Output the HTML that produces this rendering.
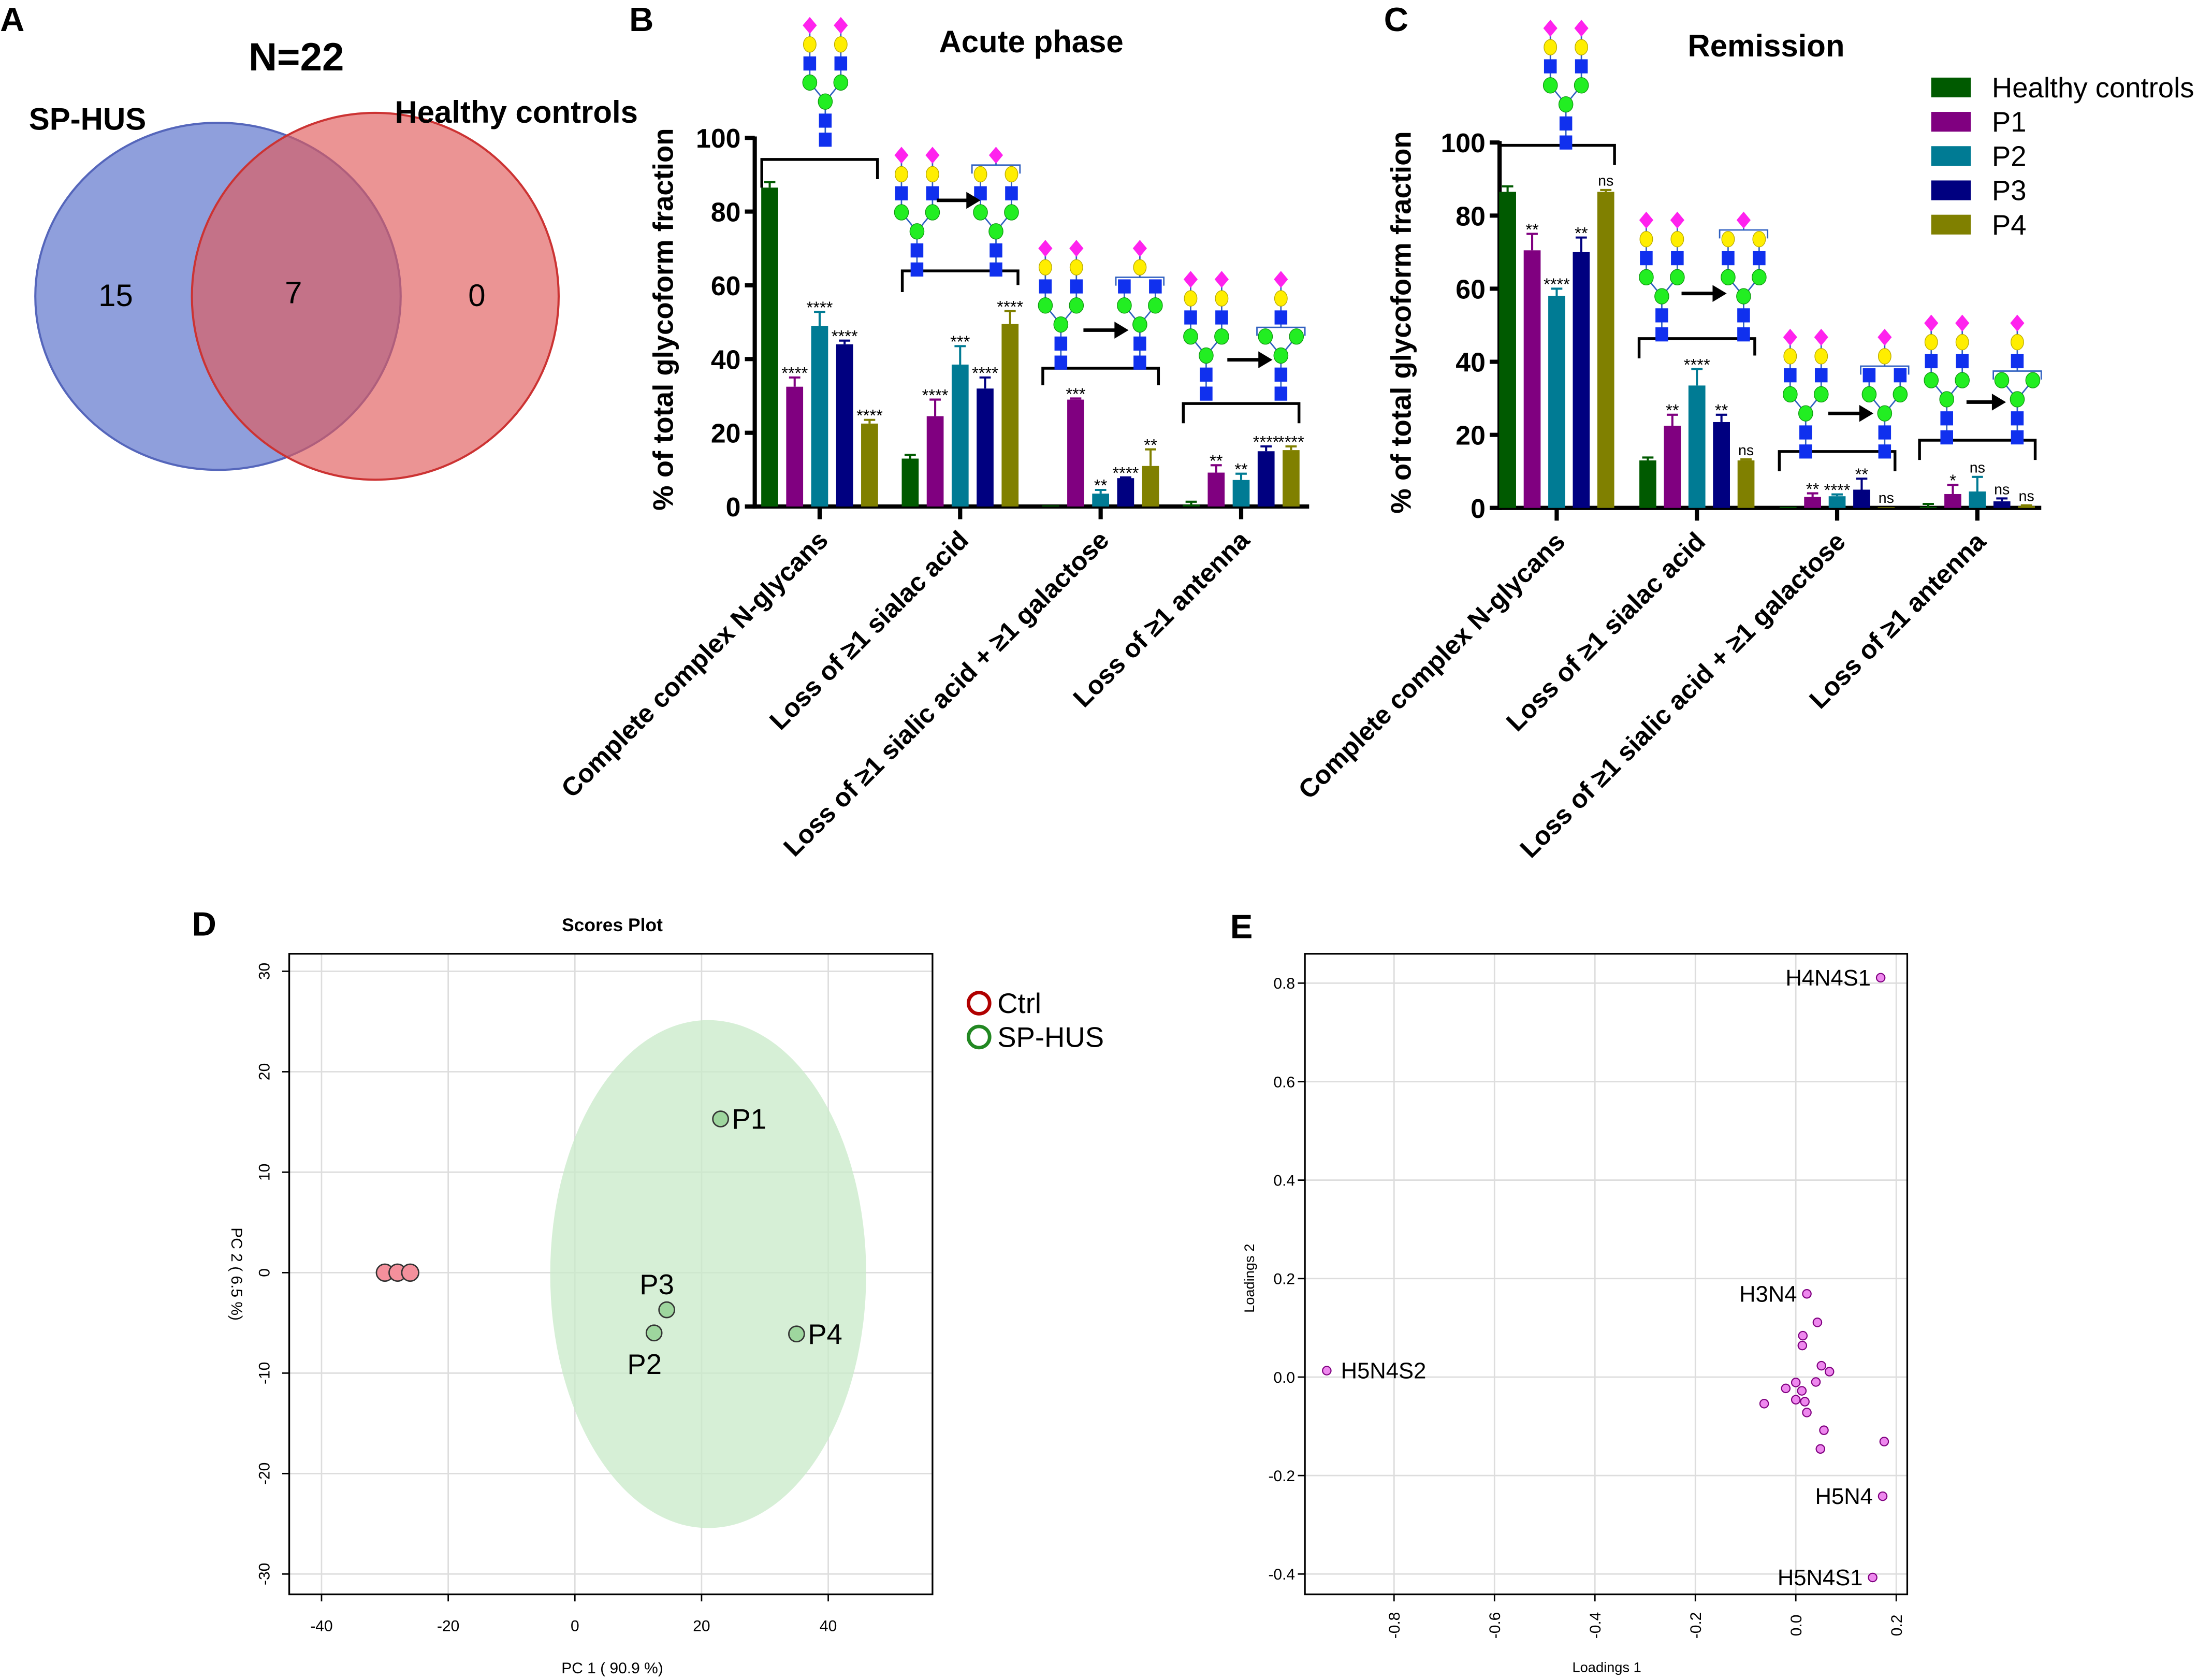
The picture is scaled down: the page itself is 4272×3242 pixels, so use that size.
<!DOCTYPE html>
<html><head><meta charset="utf-8"><style>
html,body{margin:0;padding:0;background:#fff;}
svg{display:block;font-family:"Liberation Sans",Arial,sans-serif;}
</style></head><body>
<svg id="fig" xmlns="http://www.w3.org/2000/svg" width="4272" height="3242" viewBox="0 0 1568 1190">
<rect width="1568" height="1190" fill="#fff"/>
<!-- Panel A -->
<g>
<text x="0" y="22" font-size="24" font-weight="bold">A</text>
<text x="210" y="50" font-size="28" font-weight="bold" text-anchor="middle">N=22</text>
<ellipse cx="154.5" cy="210" rx="129.5" ry="123" fill="#7b8ed6" fill-opacity="0.85" stroke="#5566bb" stroke-width="1.5"/>
<circle cx="266" cy="210" r="130" fill="#e05a5a" fill-opacity="0.65" stroke="#cc3333" stroke-width="1.5"/>
<text x="62" y="92" font-size="22" font-weight="bold" text-anchor="middle">SP-HUS</text>
<text x="366" y="87" font-size="22" font-weight="bold" text-anchor="middle">Healthy controls</text>
<text x="82" y="217" font-size="22" text-anchor="middle">15</text>
<text x="208" y="215" font-size="22" text-anchor="middle">7</text>
<text x="338" y="217" font-size="22" text-anchor="middle">0</text>
</g>
<g id="barsB"></g>
<g id="barsC"></g>
<g id="panelD"></g>
<g id="panelE"></g>
</svg>
<script>
const NS="http://www.w3.org/2000/svg";
const categories=["Complete complex N-glycans","Loss of  \u22651 sialac acid","Loss of \u22651 sialic acid + \u22651 galactose","Loss of \u22651 antenna"];
const seriesNames=["Healthy controls","P1","P2","P3","P4"];
const seriesColors=["#005a00","#800080","#007b94","#000080","#808000"];
const acuteVals=[[86.5,32.5,49,44,22.5],[13,24.5,38.5,32,49.5],[0.3,29,3.5,7.7,11],[0.5,9.2,7.2,15,15.3]];
const acuteErr=[[1.5,2.5,3.8,1,1],[1,4.5,5,3,3.5],[0,0.3,1,0.2,4.5],[0.8,2,1.7,1.3,1]];
const acuteSig=[["","****","****","****","****"],["","****","***","****","****"],["","***","**","****","**"],["","**","**","****","****"]];
const remVals=[[86.5,70.5,58,70,86.5],[13,22.5,33.5,23.5,13],[0.3,3,3.2,5,0.2],[0.3,3.8,4.5,1.8,0.5]];
const remErr=[[1.5,4.5,2,4,0.5],[0.8,3,4.5,2,0.3],[0,1,0.5,3,0],[0.8,2.5,4,0.8,0.2]];
const remSig=[["","**","****","**","ns"],["","**","****","**","ns"],["","**","****","**","ns"],["","*","ns","ns","ns"]];
const yTicksBar=[0,20,40,60,80,100];
const ctrlX=[-30,-28,-26], ctrlY=[0,0,0];
const patLabels=["P1","P2","P3","P4"], patX=[23,12.5,14.5,35], patY=[15.3,-6,-3.7,-6.1];
const dXTicks=[-40,-20,0,20,40], dYTicks=[-30,-20,-10,0,10,20,30];
const loadX=[0.169,0.022,0.043,0.014,0.013,0.051,0.067,0.040,0,-0.020,0.012,-0.063,0,0.018,0.022,0.056,0.049,0.176,0.173,0.153,-0.934];
const loadY=[0.811,0.169,0.111,0.084,0.064,0.023,0.011,-0.010,-0.011,-0.023,-0.028,-0.054,-0.046,-0.050,-0.072,-0.108,-0.146,-0.131,-0.242,-0.407,0.013];
const loadLabels=["H4N4S1","H3N4","","","","","","","","","","","","","","","","","H5N4","H5N4S1","H5N4S2"];
const eXTicks=[-0.8,-0.6,-0.4,-0.2,0.0,0.2], eYTicks=[-0.4,-0.2,0.0,0.2,0.4,0.6,0.8];

function mk(parent,tag,attrs,txt){const e=document.createElementNS(NS,tag);for(const k in attrs)e.setAttribute(k,attrs[k]);if(txt!==undefined)e.textContent=txt;parent.appendChild(e);return e;}

function glycan(g,cx,ty,type){
  const u=13.5,a=11;const y=i=>ty+i*u;
  const L="#3060c0";
  const dia=(x,yy)=>mk(g,"polygon",{points:`${x},${yy-6} ${x+5},${yy} ${x},${yy+6} ${x-5},${yy}`,fill:"#ff22ee"});
  const gal=(x,yy)=>mk(g,"ellipse",{cx:x,cy:yy,rx:4.5,ry:5.5,fill:"#ffee00",stroke:"#bbaa00","stroke-width":0.5});
  const man=(x,yy)=>mk(g,"ellipse",{cx:x,cy:yy,rx:5,ry:5.5,fill:"#22ee22",stroke:"#119911","stroke-width":0.5});
  const glc=(x,yy)=>mk(g,"rect",{x:x-4.5,y:yy-5,width:9,height:10,fill:"#1030ee"});
  const ln=(x1,y1,x2,y2)=>mk(g,"line",{x1,y1,x2,y2,stroke:L,"stroke-width":1});
  const brk=(yy)=>{mk(g,"path",{d:`M${cx-a-6},${yy+6} V${yy} H${cx+a+6} V${yy+6} M${cx},${yy} V${yy-6}`,fill:"none",stroke:L,"stroke-width":1});};
  ln(cx,y(4),cx,y(6));ln(cx,y(4),cx-a,y(3));ln(cx,y(4),cx+a,y(3));
  glc(cx,y(6));glc(cx,y(5));man(cx,y(4));
  if(type==="full"){
    for(const s of [-1,1]){ln(cx+s*a,y(0),cx+s*a,y(3));dia(cx+s*a,y(0));gal(cx+s*a,y(1));glc(cx+s*a,y(2));man(cx+s*a,y(3));}
  }else if(type==="sia"){
    for(const s of [-1,1]){ln(cx+s*a,y(1),cx+s*a,y(3));gal(cx+s*a,y(1));glc(cx+s*a,y(2));man(cx+s*a,y(3));}
    brk(y(0)+7);dia(cx,y(0));
  }else if(type==="siagal"){
    for(const s of [-1,1]){ln(cx+s*a,y(2),cx+s*a,y(3));glc(cx+s*a,y(2));man(cx+s*a,y(3));}
    brk(y(1)+7);ln(cx,y(0),cx,y(1));dia(cx,y(0));gal(cx,y(1));
  }else{
    for(const s of [-1,1]){man(cx+s*a,y(3));}
    brk(y(2)+7);ln(cx,y(0),cx,y(2));dia(cx,y(0));gal(cx,y(1));glc(cx,y(2));
  }
}
function arrow(g,x1,x2,yy){mk(g,"line",{x1,y1:yy,x2:x2-8,y2:yy,stroke:"#000","stroke-width":2.5});mk(g,"polygon",{points:`${x2-10},${yy-6} ${x2},${yy} ${x2-10},${yy+6}`,fill:"#000"});}

function barPanel(id,cfg){
  const g=document.getElementById(id);
  const ys=v=>cfg.y0-v*(cfg.y0-cfg.y100)/100;
  mk(g,"text",{x:cfg.letterX,y:22,"font-size":24,"font-weight":"bold",},cfg.letter);
  mk(g,"text",{x:cfg.titleX,y:cfg.titleY,"font-size":22,"font-weight":"bold","text-anchor":"middle",},cfg.title);
  mk(g,"text",{x:0,y:0,"font-size":20,"font-weight":"bold","text-anchor":"middle",transform:`translate(${cfg.ylx},${(cfg.y0+cfg.y100)/2-2}) rotate(-90)`,},"% of total glycoform fraction");
  mk(g,"line",{x1:cfg.ax,y1:cfg.y100-1,x2:cfg.ax,y2:cfg.y0+1.5,stroke:"#000","stroke-width":3,});
  mk(g,"line",{x1:cfg.ax-1.5,y1:cfg.y0,x2:cfg.axEnd,y2:cfg.y0,stroke:"#000","stroke-width":3,});
  yTicksBar.forEach(t=>{
    mk(g,"line",{x1:cfg.ax-7,y1:ys(t),x2:cfg.ax,y2:ys(t),stroke:"#000","stroke-width":3});
    const tl=mk(g,"text",{x:cfg.ax-10,y:ys(t)+7,"font-size":19,"font-weight":"bold","text-anchor":"end"},t);
    
    
  });
  categories.forEach((c,gi)=>{
    const gc=cfg.c0+gi*cfg.gs;
    mk(g,"line",{x1:gc,y1:cfg.y0,x2:gc,y2:cfg.y0+9,stroke:"#000","stroke-width":3});
    const cl=mk(g,"text",{x:0,y:0,"font-size":18.5,"font-weight":"bold","text-anchor":"end",transform:`translate(${gc+7},${cfg.y0+25}) rotate(-45)`},c);
    
    
    cfg.vals[gi].forEach((v,si)=>{
      const bx=gc+(si-2)*cfg.pitch;
      const top=ys(v), col=seriesColors[si];
      const r=mk(g,"rect",{x:bx-6,y:top,width:12,height:cfg.y0-top,fill:col});
      
      
      const et=ys(v+cfg.err[gi][si]);
      if(cfg.err[gi][si]>0){
        mk(g,"line",{x1:bx,y1:top,x2:bx,y2:et,stroke:col,"stroke-width":1.5});
        mk(g,"line",{x1:bx-4,y1:et,x2:bx+4,y2:et,stroke:col,"stroke-width":1.5});
      }
      const s=cfg.sig[gi][si];
      if(s){const st=mk(g,"text",{x:bx,y:et-(s==="ns"?3:-1),"font-size":s==="ns"?10.5:12,"text-anchor":"middle"},s);
        
        }
    });
    const b=cfg.brk[gi];
    const bp=mk(g,"path",{d:`M${gc-41},${b[0]+b[1]} V${b[0]} H${gc+41} V${b[0]+b[2]}`,fill:"none",stroke:"#000","stroke-width":2});
    
    
  });
  cfg.gly.forEach(q=>{const gg=mk(g,"g",{});glycan(gg,q[0],q[1],q[2]);});
  cfg.arr.forEach(q=>arrow(g,q[0],q[1],q[2]));
}
barPanel("barsB",{letter:"B",letterX:446,title:"Acute phase",titleX:731,titleY:37,ylx:477,ax:535,axEnd:928,y0:359,y100:97.7,c0:581,gs:99.6,pitch:17.7,
  vals:acuteVals,err:acuteErr,sig:acuteSig,brk:[[113,20,14],[192,15,10],[261,12,12],[286,14,14]],
  gly:[[585,18,"full"],[650,110,"full"],[706,110,"sia"],[752,176,"full"],[808,176,"siagal"],[855,198,"full"],[908,198,"lossant"]],
  arr:[[664,695,142],[768,800,234],[870,902,255]]});
barPanel("barsC",{letter:"C",letterX:981,title:"Remission",titleX:1252,titleY:40,ylx:1000,ax:1063,axEnd:1447,y0:360,y100:101,c0:1103.5,gs:99.4,pitch:17.4,
  vals:remVals,err:remErr,sig:remSig,brk:[[103,16,14],[240,14,12],[320,14,14],[312,14,14]],
  gly:[[1110,20,"full"],[1178,156,"full"],[1236,156,"sia"],[1280,239,"full"],[1336,239,"siagal"],[1380,229,"full"],[1430,229,"lossant"]],
  arr:[[1192,1224,208],[1296,1328,293],[1394,1422,285]]});
(function(){const g=document.getElementById("barsC");
 seriesNames.forEach((n,i)=>{const yy=62+i*24.3;
  const r=mk(g,"rect",{x:1369,y:yy-7,width:28,height:14,fill:seriesColors[i]});
  
  const t=mk(g,"text",{x:1412,y:yy+7,"font-size":20},n);
  });
})();

(function(){
 const g=document.getElementById("panelD");
 const X0=205,X1=661,Y0=676,Y1=1130;
 const xs=v=>407.5+v*4.49, ys=v=>902-v*7.12;
 mk(g,"text",{x:136,y:663,"font-size":24,"font-weight":"bold",},"D");
 mk(g,"text",{x:434,y:660,"font-size":13,"font-weight":"bold","text-anchor":"middle",},"Scores Plot");
 dXTicks.forEach(t=>{mk(g,"line",{x1:xs(t),y1:Y0,x2:xs(t),y2:Y1,stroke:"#ddd","stroke-width":1});});
 dYTicks.forEach(t=>{mk(g,"line",{x1:X0,y1:ys(t),x2:X1,y2:ys(t),stroke:"#ddd","stroke-width":1});});
 const el=mk(g,"ellipse",{cx:502,cy:903,rx:112,ry:180,fill:"#c8eac8","fill-opacity":0.75});
 
 mk(g,"rect",{x:X0,y:Y0,width:X1-X0,height:Y1-Y0,fill:"none",stroke:"#000","stroke-width":1.2,});
 dXTicks.forEach(t=>{mk(g,"line",{x1:xs(t),y1:Y1,x2:xs(t),y2:Y1+5,stroke:"#000"});
  const tl=mk(g,"text",{x:xs(t),y:Y1+26,"font-size":11,"text-anchor":"middle"},t);});
 dYTicks.forEach(t=>{mk(g,"line",{x1:X0-5,y1:ys(t),x2:X0,y2:ys(t),stroke:"#000"});
  const tl=mk(g,"text",{x:0,y:0,"font-size":11,"text-anchor":"middle",transform:`translate(${X0-14},${ys(t)}) rotate(-90)`},t);});
 mk(g,"text",{x:434,y:1186,"font-size":11,"text-anchor":"middle",},"PC 1 ( 90.9 %)");
 mk(g,"text",{x:0,y:0,"font-size":11,"text-anchor":"middle",transform:"translate(164,903) rotate(90)",},"PC 2 ( 6.5 %)");
 ctrlX.forEach((x,i)=>{const c=mk(g,"circle",{cx:xs(x),cy:ys(ctrlY[i]),r:6,fill:"#f4909c",stroke:"#333","stroke-width":1});});
 const off=[[8,7,"start"],[-3,29,"start"],[-7,-11,"middle"],[8,7,"start"]];
 patX.forEach((x,i)=>{const c=mk(g,"circle",{cx:xs(x),cy:ys(patY[i]),r:5.5,fill:"#9ed69e",stroke:"#333","stroke-width":1});
  const dx=i==1?-19:off[i][0];
  const t=mk(g,"text",{x:xs(x)+dx,y:ys(patY[i])+off[i][1],"font-size":20,"text-anchor":off[i][2]},patLabels[i]);});
 mk(g,"circle",{cx:694,cy:711,r:7.5,fill:"none",stroke:"#b00000","stroke-width":2.5,});
 mk(g,"text",{x:707,y:718,"font-size":20,},"Ctrl");
 mk(g,"circle",{cx:694,cy:735,r:7.5,fill:"none",stroke:"#228822","stroke-width":2.5,});
 mk(g,"text",{x:707,y:742,"font-size":20,},"SP-HUS");
})();

(function(){
 const g=document.getElementById("panelE");
 const X0=925,X1=1352,Y0=676,Y1=1130;
 const xs=v=>1273+v*356, ys=v=>976-v*349;
 mk(g,"text",{x:872,y:665,"font-size":24,"font-weight":"bold",},"E");
 eXTicks.forEach(t=>mk(g,"line",{x1:xs(t),y1:Y0,x2:xs(t),y2:Y1,stroke:"#ddd","stroke-width":1}));
 eYTicks.forEach(t=>mk(g,"line",{x1:X0,y1:ys(t),x2:X1,y2:ys(t),stroke:"#ddd","stroke-width":1}));
 mk(g,"rect",{x:X0,y:Y0,width:X1-X0,height:Y1-Y0,fill:"none",stroke:"#000","stroke-width":1.2,});
 eXTicks.forEach(t=>{mk(g,"line",{x1:xs(t),y1:Y1,x2:xs(t),y2:Y1+5,stroke:"#000"});
  const tl=mk(g,"text",{x:0,y:0,"font-size":11,"text-anchor":"middle",transform:`translate(${xs(t)+4},${Y1+22}) rotate(-90)`},t.toFixed(1));});
 eYTicks.forEach(t=>{mk(g,"line",{x1:X0-5,y1:ys(t),x2:X0,y2:ys(t),stroke:"#000"});
  const tl=mk(g,"text",{x:X0-7,y:ys(t)+4,"font-size":11,"text-anchor":"end"},t.toFixed(1));});
 mk(g,"text",{x:1139,y:1185,"font-size":10,"text-anchor":"middle",},"Loadings 1");
 mk(g,"text",{x:0,y:0,"font-size":10,"text-anchor":"middle",transform:"translate(889,906) rotate(-90)",},"Loadings 2");
 loadX.forEach((x,i)=>{const c=mk(g,"circle",{cx:xs(x),cy:ys(loadY[i]),r:3,fill:"#ee88ee",stroke:"#800080","stroke-width":0.8});
  
  if(loadLabels[i]){const left=x>-0.5;const t=mk(g,"text",{x:xs(x)+(left?-7:10),y:ys(loadY[i])+5.5,"font-size":16,"text-anchor":left?"end":"start"},loadLabels[i]);
   }});
})();
</script>
</body></html>
